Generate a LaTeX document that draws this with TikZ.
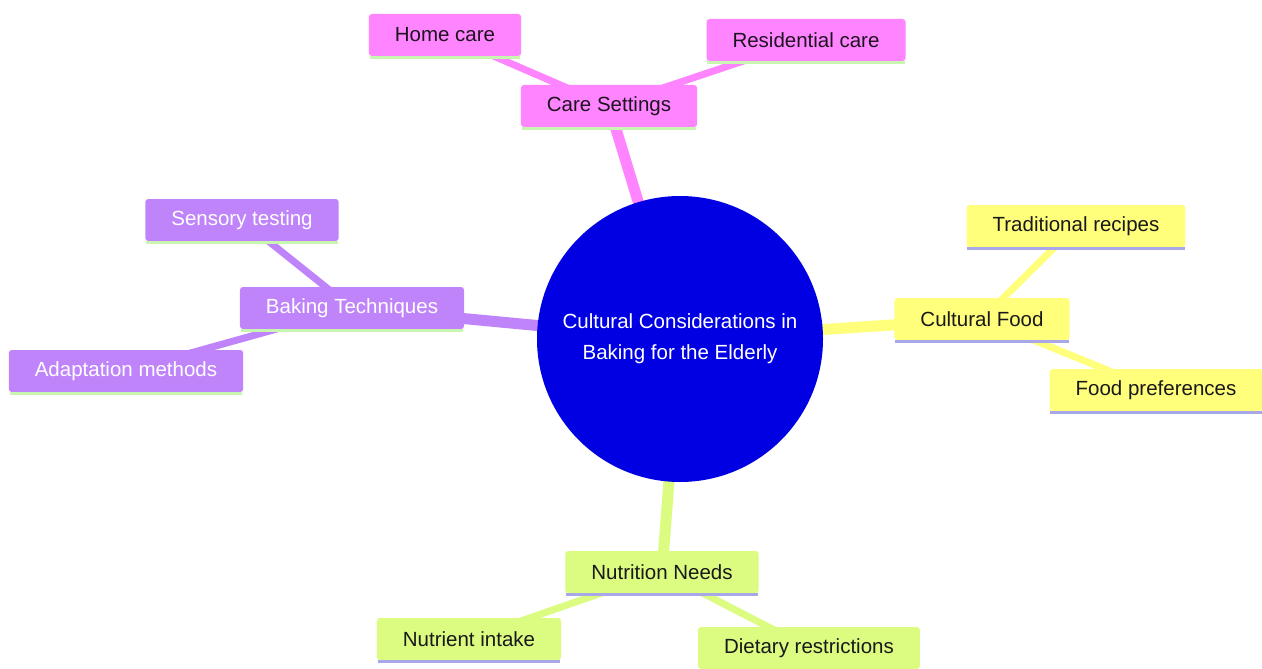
\documentclass[tikz,border=0pt]{standalone}
\usepackage{fontspec}
\setmainfont{Liberation Sans}
\definecolor{cpink}{HTML}{FF84FF}
\definecolor{cpurple}{HTML}{C084FA}
\definecolor{cyellow}{HTML}{FFFF7C}
\definecolor{cgreen}{HTML}{DBFC80}
\definecolor{cblue}{HTML}{0000E2}
\definecolor{lgreen}{HTML}{C8F5B0}
\definecolor{lavender}{HTML}{A8A8E8}
\definecolor{darktext}{HTML}{1E1420}
\pgfdeclarelayer{bg}
\pgfsetlayers{bg,main}
\begin{document}
\begin{tikzpicture}[x=1pt,y=-1pt,
  box/.style={rectangle,rounded corners=3pt,inner xsep=26pt,inner ysep=0pt,minimum height=42pt,
    font=\fontsize{20.5}{24}\selectfont},
  pinkbox/.style={box,fill=cpink,text=darktext},
  purplebox/.style={box,fill=cpurple,text=white},
  yellowbox/.style={box,fill=cyellow,text=black!90},
  greenbox/.style={box,fill=cgreen,text=black!90},
  mainedge/.style={line width=11pt},
  leafedge/.style={line width=7pt},
  bottomline/.style={line width=3pt}]
\useasboundingbox (0,0) rectangle (1262,669);

% nodes
\node[circle,fill=cblue,minimum size=286pt,inner sep=0pt,text=white,align=center,
  font=\fontsize{20.5}{31}\selectfont] (root) at (680,339)
  {Cultural Considerations in\\Baking for the Elderly};

\node[pinkbox] (cs) at (609,106) {Care Settings};
\node[pinkbox] (hc) at (445,35) {Home care};
\node[pinkbox] (rc) at (806,40) {Residential care};

\node[purplebox] (bt) at (352,308) {Baking Techniques};
\node[purplebox] (st) at (242,220) {Sensory testing};
\node[purplebox] (am) at (126,371) {Adaptation methods};

\node[yellowbox] (cf) at (982,319) {Cultural Food};
\node[yellowbox] (tr) at (1076,226) {Traditional recipes};
\node[yellowbox] (fp) at (1156,390) {Food preferences};

\node[greenbox] (nn) at (662,572) {Nutrition Needs};
\node[greenbox] (ni) at (469,639) {Nutrient intake};
\node[greenbox] (dr) at (809,648) {Dietary restrictions};

% background and edges behind nodes
\begin{pgfonlayer}{bg}
\fill[white] (0,0) rectangle (1262,669);
\draw[mainedge,cpink] (root.center) -- (cs.center);
\draw[leafedge,cpink] (cs.center) -- (hc.center);
\draw[leafedge,cpink] (cs.center) -- (rc.center);
\draw[mainedge,cpurple] (root.center) -- (bt.center);
\draw[leafedge,cpurple] (bt.center) -- (st.center);
\draw[leafedge,cpurple] (bt.center) -- (am.center);
\draw[mainedge,cyellow] (root.center) -- (cf.center);
\draw[leafedge,cyellow] (cf.center) -- (tr.center);
\draw[leafedge,cyellow] (cf.center) -- (fp.center);
\draw[mainedge,cgreen] (root.center) -- (nn.center);
\draw[leafedge,cgreen] (nn.center) -- (ni.center);
\draw[leafedge,cgreen] (nn.center) -- (dr.center);
\end{pgfonlayer}

% bottom borders
\foreach \n in {cs,hc,rc,bt,st,am}
  \draw[bottomline,lgreen] ([xshift=1pt,yshift=-1pt]\n.south west) -- ([xshift=-1pt,yshift=-1pt]\n.south east);
\foreach \n in {cf,tr,fp,nn,ni,dr}
  \draw[bottomline,lavender] ([xshift=1pt,yshift=-1pt]\n.south west) -- ([xshift=-1pt,yshift=-1pt]\n.south east);
\end{tikzpicture}
\end{document}
